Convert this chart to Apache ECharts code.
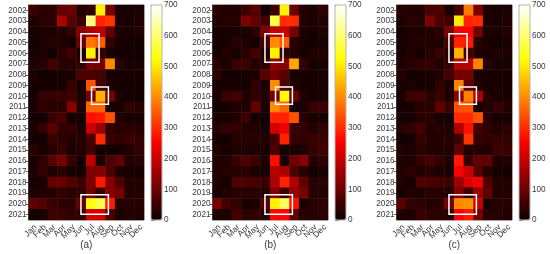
<!DOCTYPE html>
<html><head><meta charset="utf-8">
<style>html,body{margin:0;padding:0;background:#fff}#c{width:550px;height:254px}</style>
<script src="https://cdn.jsdelivr.net/npm/echarts@6/dist/echarts.min.js"></script>
</head><body><div id="c"></div>
<script>
const months = ['Jan','Feb','Mar','Apr','May','Jun','Jul','Aug','Sep','Oct','Nov','Dec'];
const years = ['2002','2003','2004','2005','2006','2007','2008','2009','2010','2011','2012','2013','2014','2015','2016','2017','2018','2019','2020','2021'];
const panelLabels = ['(a)','(b)','(c)'];
const colorbarTicks = [0,100,200,300,400,500,600,700];
const valuesA = [
[50,30,35,90,100,25,40,510,110,15,15,20],
[20,35,35,170,80,50,610,290,310,20,15,20],
[15,20,20,25,40,130,170,190,90,20,15,25],
[10,20,30,25,12,100,380,350,40,15,10,10],
[15,20,8,35,55,20,510,50,15,10,10,10],
[20,30,60,30,30,40,110,110,400,30,15,15],
[20,8,15,15,20,70,70,60,15,15,15,15],
[15,15,15,15,45,15,340,60,20,15,10,10],
[15,45,45,45,55,20,110,440,110,20,10,10],
[15,35,30,30,130,25,360,360,15,15,40,30],
[10,10,50,60,15,15,270,280,340,25,15,15],
[20,45,80,40,40,20,200,150,40,30,30,30],
[10,10,50,35,25,30,60,300,50,40,50,40],
[30,15,30,45,20,25,60,10,8,10,25,40],
[15,35,80,110,45,10,190,15,70,90,25,30],
[20,45,20,35,15,15,120,130,70,20,12,12],
[15,15,95,95,75,50,120,280,130,70,25,25],
[20,25,25,40,30,40,110,40,130,110,25,25],
[85,75,50,35,35,90,530,580,280,25,30,30],
[12,12,55,50,40,40,210,210,65,20,25,25]];
const valuesB = [
[35,25,25,50,80,8,50,510,100,25,20,35],
[25,30,30,120,90,60,570,300,300,25,20,20],
[15,15,15,15,35,120,190,200,110,20,15,25],
[15,15,30,20,15,60,400,350,30,15,10,10],
[12,25,12,30,60,25,510,40,25,10,25,25],
[30,20,50,50,25,40,140,130,430,40,15,15],
[30,12,15,15,20,80,110,80,15,15,15,15],
[15,15,15,10,40,20,400,70,25,15,15,15],
[15,50,60,25,40,25,120,520,100,25,12,15],
[10,10,25,20,90,20,400,360,10,20,50,50],
[15,15,25,50,10,10,290,290,340,30,15,15],
[30,40,40,25,25,15,210,240,50,40,25,40],
[12,10,30,30,30,25,60,290,45,40,50,50],
[25,15,20,20,20,15,70,12,15,20,45,55],
[25,20,50,70,50,15,270,20,100,130,25,35],
[25,30,30,30,15,15,180,170,70,30,12,12],
[25,12,70,70,65,50,170,290,170,90,30,35],
[15,25,30,30,30,30,130,50,150,110,30,25],
[110,55,40,15,20,80,510,590,270,12,30,35],
[20,20,60,35,40,35,260,260,90,30,30,30]];
const valuesC = [
[30,25,25,60,70,15,60,380,120,20,15,20],
[20,35,30,120,70,55,500,290,300,20,15,20],
[10,20,20,25,35,120,240,250,110,20,15,25],
[15,20,25,25,25,60,290,280,30,15,10,15],
[15,25,12,30,50,30,440,60,25,15,20,20],
[20,30,40,40,25,50,180,180,390,25,15,15],
[25,8,15,15,25,60,110,110,20,15,15,15],
[15,20,15,15,40,20,390,90,25,15,15,15],
[15,55,55,30,50,20,140,390,170,25,15,15],
[12,12,30,30,90,50,340,340,15,25,45,25],
[12,12,30,35,15,15,300,300,340,30,15,15],
[30,40,60,25,30,20,170,270,60,40,25,35],
[10,10,45,25,25,30,50,310,45,40,45,40],
[25,20,30,25,25,20,90,25,25,25,50,50],
[25,20,45,60,40,20,280,40,90,90,20,25],
[25,35,25,30,20,20,250,200,80,30,15,15],
[25,10,70,65,60,50,150,220,240,70,25,25],
[12,25,20,30,30,30,130,50,150,90,25,25],
[80,40,35,25,30,110,400,410,200,15,30,30],
[20,20,50,35,35,30,250,280,110,30,30,25]];
const panelValues = [valuesA, valuesB, valuesC];
// highlight boxes in month / year-row units: [x0, x1, y0, y1]
const boxes = [[5.45,7.33,2.67,5.33],[6.55,8.3,7.63,9.24],[5.45,8.3,17.65,19.47]];

function hot(t){
  const r=Math.min(1,0.04+t/0.365*0.96), g=Math.max(0,Math.min(1,(t-0.365)/0.381)), b=Math.max(0,(t-0.746)/0.254);
  return 'rgb('+[r,g,b].map(v=>Math.round(v*255)).join(',')+')';
}
const hotStops=[];for(let i=0;i<=64;i++)hotStops.push(hot(i/64));

const heatLeft=[28.5,212.5,396.5], barLeft=[151,335,519];
const topY=5, plotH=215, heatW=115.5, barW=11;
const textC='#3a3a3a', tickC='#666', font='Liberation Sans', border='#b4b4b4';
const grid=[],xAxis=[],yAxis=[],series=[],visualMap=[];
heatLeft.forEach((l,i)=>grid.push({left:l,top:topY,width:heatW,height:plotH,outerBoundsMode:'none',show:true,borderColor:border,borderWidth:1,backgroundColor:'transparent'}));
barLeft.forEach(l=>grid.push({left:l,top:topY,width:barW,height:plotH,outerBoundsMode:'none',show:true,borderColor:border,borderWidth:1,backgroundColor:'transparent',z:5}));
heatLeft.forEach((l,i)=>{
  xAxis.push({type:'category',gridIndex:i,data:months,name:panelLabels[i],nameLocation:'middle',nameGap:25,nameMoveOverlap:false,
    nameTextStyle:{fontFamily:font,fontSize:10,color:textC,verticalAlign:'middle'},
    axisLine:{show:false},axisTick:{show:true,length:3,lineStyle:{color:tickC},alignWithLabel:true},
    axisLabel:{rotate:45,interval:0,fontFamily:font,fontSize:8.5,color:textC,margin:8,padding:[0,-3,0,0]},splitLine:{show:false}});
  yAxis.push({type:'category',gridIndex:i,data:years,inverse:true,axisLine:{show:false},
    axisTick:{show:true,length:3,lineStyle:{color:tickC},alignWithLabel:true},
    axisLabel:{interval:0,fontFamily:font,fontSize:8.2,color:textC,margin:2},splitLine:{show:false}});
});
heatLeft.forEach((l,i)=>{
  xAxis.push({type:'value',gridIndex:i,min:0,max:12,show:false});
  yAxis.push({type:'value',gridIndex:i,min:0,max:20,inverse:true,show:false});
});
barLeft.forEach((l,i)=>{
  xAxis.push({type:'value',gridIndex:3+i,min:0,max:1,show:false});
  yAxis.push({type:'value',gridIndex:3+i,min:0,max:700,interval:100,position:'right',
    axisLine:{show:false},axisTick:{show:true,length:4,lineStyle:{color:tickC},customValues:colorbarTicks},
    axisLabel:{customValues:colorbarTicks,fontFamily:font,fontSize:8.2,color:textC,margin:2},splitLine:{show:false}});
});
panelValues.forEach((vals,i)=>{
  const d=[];vals.forEach((row,y)=>row.forEach((v,x)=>d.push([x,y,v])));
  series.push({type:'heatmap',xAxisIndex:i,yAxisIndex:i,data:d,itemStyle:{borderWidth:0},emphasis:{disabled:true},progressive:0});
  visualMap.push({type:'continuous',seriesIndex:i,min:0,max:700,calculable:false,orient:'vertical',
    left:barLeft[i],top:topY,itemWidth:barW,itemHeight:plotH,padding:0,text:null,inRange:{color:hotStops},hoverLink:false});
});
panelValues.forEach((vals,i)=>{
  series.push({type:'custom',xAxisIndex:3+i,yAxisIndex:3+i,clip:false,z:10,silent:true,
    data:boxes,encode:{x:[0,1],y:[2,3]},
    renderItem:(p,api)=>{
      const a=api.coord([api.value(0),api.value(2)]),b=api.coord([api.value(1),api.value(3)]);
      return {type:'rect',shape:{x:a[0],y:a[1],width:b[0]-a[0],height:b[1]-a[1]},style:{fill:null,stroke:'#fff',lineWidth:1.5}};
    }});
});
const chart=echarts.init(document.getElementById('c'),null,{renderer:'canvas'});
chart.setOption({animation:false,backgroundColor:'#fff',grid,xAxis,yAxis,visualMap,series});
</script></body></html>
